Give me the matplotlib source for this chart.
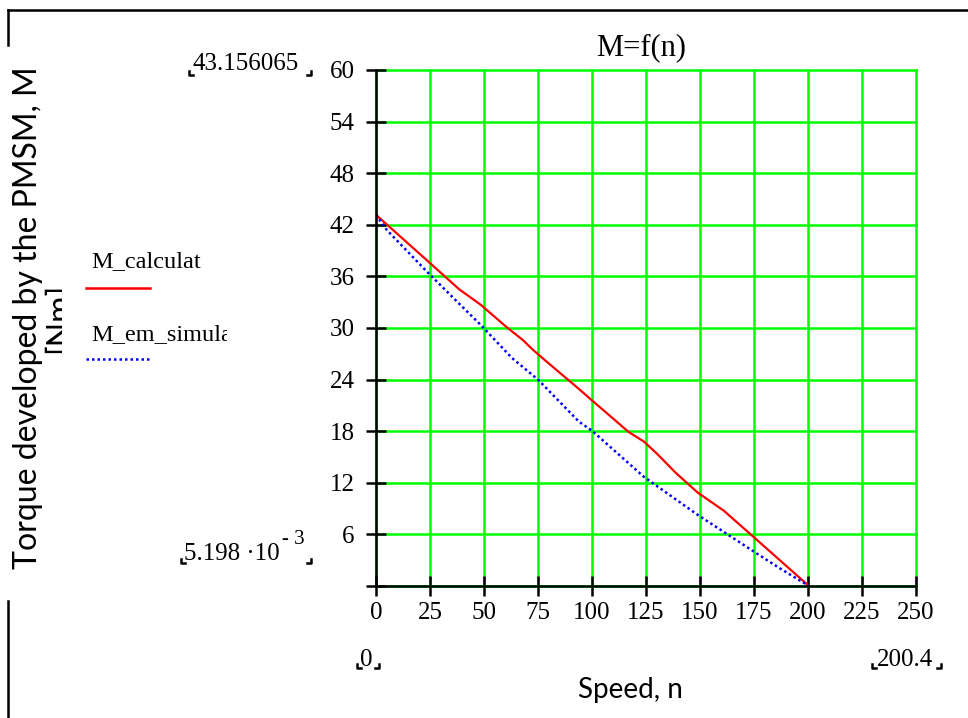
import matplotlib
matplotlib.use("Agg")
import matplotlib.pyplot as plt
from matplotlib.patches import Rectangle

# speed n and torque M
n_calc = [0, 23, 38.5, 48.5, 60, 68, 72.5, 78, 94, 99, 117, 124, 130, 139, 149, 161, 175, 200.4]
M_calc = [43.16, 38.0, 34.5, 32.7, 30.2, 28.6, 27.5, 26.3, 22.9, 21.8, 17.9, 16.8, 15.4, 13.1, 10.85, 8.76, 5.66, 0.005]

n_sim = [0, 5, 23, 36, 48.5, 63, 75, 94, 100, 124, 149, 162, 175, 187, 200.4]
M_sim = [43.16, 41.4, 36.7, 33.45, 30.35, 26.5, 24.0, 19.1, 18.06, 12.7, 8.26, 6.13, 3.99, 2.05, 0.005]

x_ticks = [0, 25, 50, 75, 100, 125, 150, 175, 200, 225, 250]
y_ticks = [0, 6, 12, 18, 24, 30, 36, 42, 48, 54, 60]
y_ticklabels = ['', '6', '12', '18', '24', '30', '36', '42', '48', '54', '60']

SERIF = 'Liberation Serif'
SANS = 'Lato'
plt.rcParams['font.family'] = [SERIF, 'DejaVu Sans']

W, H = 968, 718
fig = plt.figure(figsize=(W / 100, H / 100), dpi=100)

# overlay in pixel coordinates for the loose Mathcad-style annotations
ov = fig.add_axes([0, 0, 1, 1])
ov.set_xlim(0, W); ov.set_ylim(H, 0)
ov.axis('off')

ax = fig.add_axes([376 / W, (H - 586) / H, (916 - 376) / W, (586 - 70) / H])
ax.set_zorder(2)
ax.patch.set_alpha(0)

ax.plot(n_calc, M_calc, color='#ff0000', lw=1.6, zorder=3)
ax.plot(n_sim, M_sim, color='#0000ff', lw=1.8, ls=(0, (1, 1.2)), zorder=3)

ax.set_xlim(0, 250); ax.set_ylim(0, 60)
ax.set_xticks(x_ticks)
ax.set_yticks(y_ticks)
ax.set_yticklabels(y_ticklabels)
ax.grid(True, color='#00ff00', lw=1.8, zorder=1)
for gl in ax.get_xgridlines() + ax.get_ygridlines():
    gl.set_clip_on(False)
ax.set_axisbelow(True)

for s in ['top', 'right']:
    ax.spines[s].set_visible(False)
for s in ['left', 'bottom']:
    ax.spines[s].set_linewidth(1.8)
    ax.spines[s].set_zorder(4)

ax.tick_params(direction='inout', length=15, width=1.8, color='black', labelsize=18)
ax.tick_params(axis='y', pad=8)
ax.tick_params(axis='x', pad=4)

# title
ov.text(641, 48, 'M=f(n)', fontsize=22, ha='center', va='center', family=SERIF)


def corner(x, y, side):
    # small Mathcad placeholder corner marks
    if side == 'l':
        ov.plot([x, x, x + 4], [y - 4, y, y], color='black', lw=1.8)
    else:
        ov.plot([x - 4, x, x], [y, y, y - 4], color='black', lw=1.8)


# y range markers
ov.text(246, 64, '43.156065', fontsize=18, ha='center', va='center')
corner(189, 75, 'l'); corner(311, 75, 'r')
ov.text(232, 554, '5.198 \u00b710', fontsize=18, ha='center', va='center')
ov.text(293, 539, '- 3', fontsize=15, ha='center', va='center')
corner(181, 563, 'l'); corner(311, 563, 'r')

# x range markers
ov.text(366, 660, '0', fontsize=18, ha='center', va='center')
corner(357, 668, 'l'); corner(379, 668, 'r')
ov.text(905, 660, '200.4', fontsize=18, ha='center', va='center')
corner(872, 668, 'l'); corner(941, 668, 'r')

# legend
ov.text(91, 267, 'M_calculat', fontsize=17.5, ha='left', va='baseline')
ov.plot([86, 150], [288, 288], color='#ff0000', lw=1.8)
t = ov.text(91, 340, 'M_em_simulation', fontsize=17.5, ha='left', va='baseline')
t.set_clip_on(True)
t.set_clip_path(Rectangle((0, 0), 227, H, transform=ov.transData))
ov.plot([86, 150], [359, 359], color='#0000ff', lw=1.8, ls=(0, (1, 1.2)))

# axis titles
yl = ov.text(13, 318, 'Torque developed by the PMSM, M\n[Nm]', rotation=90,
             fontsize=23, ha='left', va='center', multialignment='center',
             family=[SANS, 'DejaVu Sans'], linespacing=1.05)
yl.set_clip_on(True)
yl.set_clip_path(Rectangle((0, 0), 62, H, transform=ov.transData))
ov.text(630, 690, 'Speed, n', fontsize=20, ha='center', va='center',
        family=[SANS, 'DejaVu Sans'])

# partial region frame
ov.plot([8, W], [10, 10], color='black', lw=1.8)
ov.plot([8, 8], [10, 45], color='black', lw=1.8)
ov.plot([8, 8], [601, H], color='black', lw=1.8)

fig.savefig('out.png', dpi=100)
